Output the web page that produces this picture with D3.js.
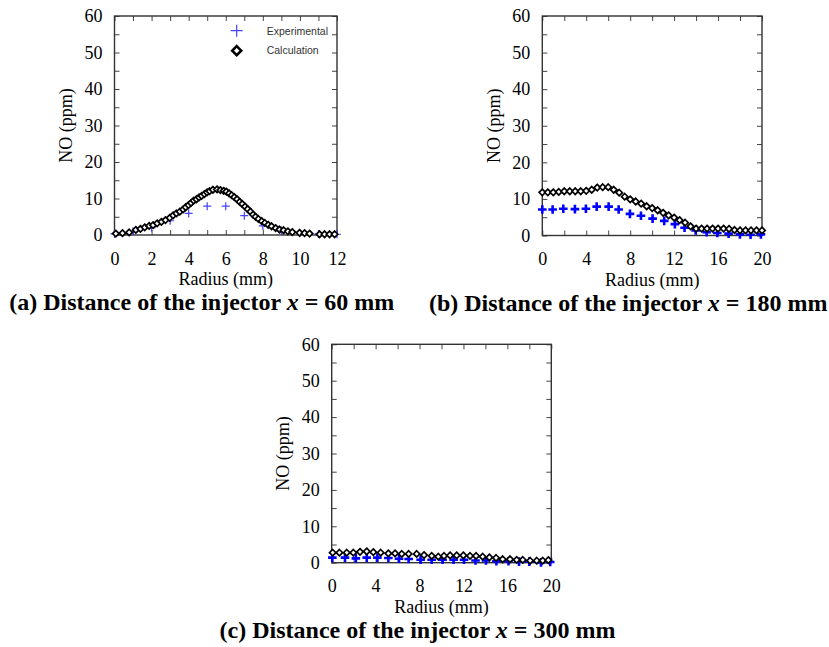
<!DOCTYPE html>
<html>
<head>
<meta charset="utf-8">
<script src="https://cdn.jsdelivr.net/npm/d3@7"></script>
<style>
    body { margin: 0; background: #fff; }
    svg { display: block; }
    .tick text { font-family: "Liberation Serif", "Times New Roman", serif; font-size: 18px; fill: #000; }
    .tick line { stroke: #444; stroke-width: 1; }
</style>
</head>
<body>
<svg id="chart" width="829" height="647"></svg>
<script>
// shared axis ticks
var yTicks = [0, 10, 20, 30, 40, 50, 60];
var yMinor = [5, 15, 25, 35, 45, 55];

// (a) x = 60 mm
var xTicksA = [0, 2, 4, 6, 8, 10, 12];
var xMinorA = [1, 3, 5, 7, 9, 11];
var radiusExpA = [0, 1, 2, 3, 4, 5, 6, 7, 8, 9, 10, 11, 12];
var noExpA = [0.3, 1.0, 2.0, 3.9, 5.9, 7.9, 7.9, 5.3, 2.5, 1.2, 0.5, 0.3, 0.2];
var radiusCalcA = [0.07, 0.43, 0.79, 1.15, 1.40, 1.63, 1.87, 2.08, 2.30, 2.53, 2.75, 2.98, 3.16, 3.34, 3.52, 3.70,
    3.84, 3.99, 4.13, 4.27, 4.42, 4.56, 4.70, 4.85, 4.99, 5.13, 5.31, 5.53, 5.71, 5.89, 6.03, 6.18, 6.32, 6.46,
    6.61, 6.75, 6.89, 7.04, 7.18, 7.33, 7.47, 7.61, 7.76, 7.94, 8.11, 8.29, 8.47, 8.69, 8.90, 9.12, 9.35, 9.59,
    9.98, 10.25, 10.52, 11.06, 11.33, 11.60, 11.87];
var noCalcA = [0.4, 0.5, 0.7, 1.4, 1.7, 2.1, 2.5, 2.7, 3.2, 3.6, 4.1, 4.7, 5.4, 5.9, 6.4, 7.0,
    7.6, 8.2, 8.8, 9.4, 9.8, 10.3, 10.7, 11.2, 11.7, 12.0, 12.4, 12.5, 12.3, 12.1, 11.9, 11.4, 10.9, 10.4,
    9.8, 9.1, 8.5, 7.8, 7.1, 6.4, 5.6, 5.0, 4.4, 3.8, 3.3, 2.8, 2.4, 1.9, 1.5, 1.3, 1.0, 0.8,
    0.6, 0.5, 0.4, 0.2, 0.2, 0.2, 0.2];

// (b) x = 180 mm
var xTicksB = [0, 4, 8, 12, 16, 20];
var xMinorB = [2, 6, 10, 14, 18];
var radiusExpB = [0, 0.94, 1.91, 2.97, 3.97, 4.95, 6.04, 6.95, 7.98, 8.98, 10.04, 11.1, 12.07, 12.95, 13.96,
    14.96, 15.93, 16.96, 17.99, 18.96, 19.9];
var noExpB = [7.1, 7.1, 7.3, 7.2, 7.3, 7.9, 7.9, 7.1, 5.9, 5.4, 4.6, 4.0, 3.1, 2.1, 1.4,
    0.9, 0.7, 0.5, 0.3, 0.2, 0.3];
var radiusCalcB = [0, 0.5, 1, 1.5, 2, 2.5, 3, 3.5, 4, 4.5, 5, 5.5, 6, 6.5, 7, 7.5, 8, 8.5, 9, 9.5, 10,
    10.5, 11, 11.5, 12, 12.5, 13, 13.5, 14, 14.5, 15, 15.5, 16, 16.5, 17, 17.5, 18, 18.5, 19, 19.5, 20];
var noCalcB = [11.8, 11.8, 11.8, 11.9, 12.1, 12.1, 12.1, 12.1, 12.2, 12.5, 13.1, 13.2, 13.2, 12.5, 11.7, 10.6,
    9.9, 9.3, 8.7, 8.0, 7.5, 6.9, 6.2, 5.5, 4.9, 4.2, 3.5, 2.5, 1.9, 1.9, 1.9, 1.9, 1.9, 1.9, 1.8, 1.5,
    1.4, 1.4, 1.4, 1.4, 1.4];

// (c) x = 300 mm
var xTicksC = [0, 4, 8, 12, 16, 20];
var xMinorC = [2, 6, 10, 14, 18];
var radiusExpC = [0.06, 1.21, 2.2, 3.19, 4.16, 5.16, 6.13, 7.01, 8.1, 9.1, 10.1, 11.1, 12.05, 13.1, 14.05,
    15.0, 16.1, 17.06, 18.0, 19.06, 19.9];
var noExpC = [1.4, 1.4, 1.2, 1.4, 1.4, 1.3, 1.1, 1.0, 0.8, 0.8, 0.8, 0.8, 0.8, 0.6, 0.6,
    0.4, 0.4, 0.3, 0.3, 0.1, 0.2];
var radiusCalcC = [0.09, 0.7, 1.37, 1.97, 2.58, 3.19, 3.79, 4.46, 5.16, 5.77, 6.38, 7.01, 7.74, 8.41, 9.11,
    9.71, 10.23, 10.78, 11.38, 11.99, 12.6, 13.15, 13.75, 14.36, 14.97, 15.57, 16.24, 16.85, 17.4, 18.07,
    18.67, 19.22, 19.73];
var noCalcC = [2.75, 2.75, 2.75, 2.75, 3.0, 3.1, 2.9, 2.75, 2.55, 2.55, 2.4, 2.4, 2.4, 2.1, 1.85,
    1.65, 1.85, 2.0, 2.0, 2.0, 1.85, 1.85, 1.65, 1.45, 1.3, 0.95, 0.95, 0.75, 0.75, 0.55,
    0.55, 0.55, 0.7];

var svg = d3.select("#chart");
var serif = '"Liberation Serif", "Times New Roman", serif';

function plusPath(s) {
    return "M" + (-s) + ",0H" + s + "M0," + (-s) + "V" + s;
}
function diamondPath(s) {
    return "M0," + (-s) + "L" + s + ",0L0," + s + "L" + (-s) + ",0Z";
}

function drawPanel(p) {
    var g = svg.append("g");
    var x = d3.scaleLinear().domain([0, p.xMax]).range([p.left, p.left + p.width]);
    var y = d3.scaleLinear().domain([0, 60]).range([p.top + p.height, p.top]);
    var bottom = p.top + p.height;
    var right = p.left + p.width;

    // bottom / top axes (ticks point inward)
    g.append("g").attr("transform", "translate(0," + bottom + ")")
        .call(d3.axisBottom(x).tickValues(p.xTicks).tickSizeInner(-5).tickSizeOuter(0).tickPadding(17));
    g.append("g").attr("transform", "translate(0," + bottom + ")")
        .call(d3.axisBottom(x).tickValues(p.xMinor).tickSizeInner(-5).tickSizeOuter(0).tickFormat(""));
    g.append("g").attr("transform", "translate(0," + p.top + ")")
        .call(d3.axisTop(x).tickValues(p.xTicks.concat(p.xMinor)).tickSizeInner(-5).tickSizeOuter(0).tickFormat(""));

    // left / right axes
    g.append("g").attr("transform", "translate(" + p.left + ",0)")
        .call(d3.axisLeft(y).tickValues(yTicks).tickSizeInner(-5).tickSizeOuter(0).tickPadding(12));
    g.append("g").attr("transform", "translate(" + p.left + ",0)")
        .call(d3.axisLeft(y).tickValues(yMinor).tickSizeInner(-5).tickSizeOuter(0).tickFormat(""));
    g.append("g").attr("transform", "translate(" + right + ",0)")
        .call(d3.axisRight(y).tickValues(yTicks.concat(yMinor)).tickSizeInner(-5).tickSizeOuter(0).tickFormat(""));

    g.selectAll(".domain").remove();

    g.append("rect")
        .attr("x", p.left).attr("y", p.top)
        .attr("width", p.width).attr("height", p.height)
        .attr("fill", "none").attr("stroke", "#333").attr("stroke-width", 1.4);

    // experimental
    g.append("g").selectAll("path")
        .data(p.expR.map(function (r, i) { return [r, p.expV[i]]; }))
        .enter().append("path")
        .attr("transform", function (d) { return "translate(" + x(d[0]) + "," + y(d[1]) + ")"; })
        .attr("d", plusPath(p.plusSize))
        .attr("fill", "none")
        .attr("stroke", p.plusColor)
        .attr("stroke-width", p.plusWidth);

    // calculation
    g.append("g").selectAll("path")
        .data(p.calcR.map(function (r, i) { return [r, p.calcV[i]]; }))
        .enter().append("path")
        .attr("transform", function (d) { return "translate(" + x(d[0]) + "," + y(d[1]) + ")"; })
        .attr("d", diamondPath(3.2))
        .attr("fill", "#fff")
        .attr("stroke", "#000")
        .attr("stroke-width", 1.7);

    // axis labels
    g.append("text")
        .attr("x", (p.left + right) / 2).attr("y", bottom + 50)
        .attr("text-anchor", "middle")
        .style("font-family", serif).style("font-size", "18px")
        .text("Radius (mm)");
    g.append("text")
        .attr("transform", "translate(" + (p.left - 49) + "," + (p.top + p.height / 2) + ") rotate(-90)")
        .attr("text-anchor", "middle").attr("dy", "0.35em")
        .style("font-family", serif).style("font-size", "18px")
        .text("NO (ppm)");

    // caption
    var t = g.append("text")
        .attr("x", (p.left + right) / 2 - 24).attr("y", bottom + 75)
        .attr("text-anchor", "middle")
        .style("font-family", serif).style("font-size", "24px").style("font-weight", "bold");
    t.append("tspan").text(p.caption + " Distance of the injector ");
    t.append("tspan").style("font-style", "italic").text("x");
    t.append("tspan").text(" = " + p.dist + " mm");

    return g;
}

var ga = drawPanel({
    left: 114.5, top: 16, width: 222.5, height: 219, xMax: 12,
    xTicks: xTicksA, xMinor: xMinorA,
    expR: radiusExpA, expV: noExpA, calcR: radiusCalcA, calcV: noCalcA,
    plusSize: 4, plusWidth: 1.2, plusColor: "#4444ff",
    caption: "(a)", dist: "60"
});

drawPanel({
    left: 542.3, top: 16, width: 219.7, height: 219.5, xMax: 20,
    xTicks: xTicksB, xMinor: xMinorB,
    expR: radiusExpB, expV: noExpB, calcR: radiusCalcB, calcV: noCalcB,
    plusSize: 4.3, plusWidth: 2.6, plusColor: "#0000ff",
    caption: "(b)", dist: "180"
});

drawPanel({
    left: 331.7, top: 344.3, width: 219.6, height: 218.4, xMax: 20,
    xTicks: xTicksC, xMinor: xMinorC,
    expR: radiusExpC, expV: noExpC, calcR: radiusCalcC, calcV: noCalcC,
    plusSize: 4.3, plusWidth: 2.6, plusColor: "#0000ff",
    caption: "(c)", dist: "300"
});

// legend in panel (a)
var legend = ga.append("g").attr("transform", "translate(236.7,30.7)");
legend.append("path").attr("d", plusPath(6)).attr("fill", "none")
    .attr("stroke", "#4444ff").attr("stroke-width", 1.2);
legend.append("path").attr("transform", "translate(0,20)").attr("d", diamondPath(4.5))
    .attr("fill", "#fff").attr("stroke", "#000").attr("stroke-width", 2.6);
legend.selectAll("text").data(["Experimental", "Calculation"]).enter().append("text")
    .attr("x", 30).attr("y", function (d, i) { return i * 20 + 3.8; })
    .style("font-family", '"Liberation Sans", Arial, sans-serif')
    .style("font-size", "10.5px").style("fill", "#333")
    .text(function (d) { return d; });
</script>
</body>
</html>
